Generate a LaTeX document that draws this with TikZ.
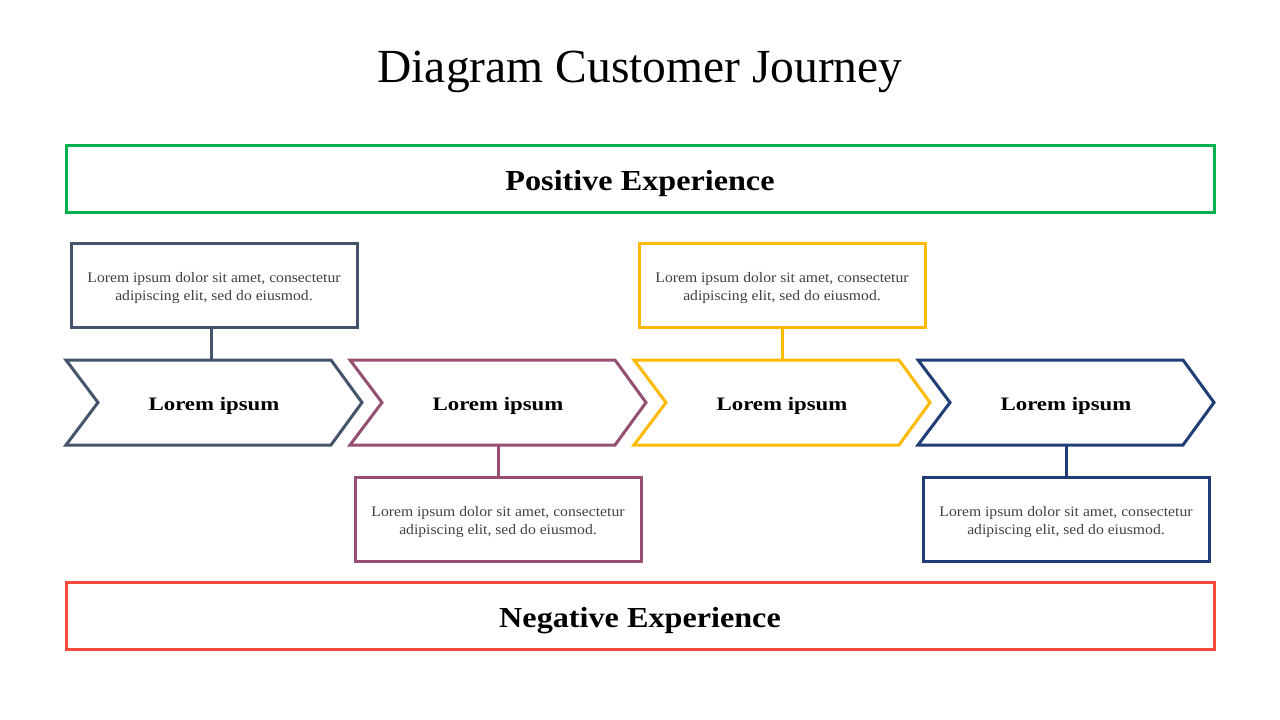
\documentclass[tikz,border=0pt]{standalone}
\usepackage{fontspec}
\setmainfont{Liberation Serif}
\definecolor{cslate}{HTML}{44546A}
\definecolor{cmauve}{HTML}{954F72}
\definecolor{cgold}{HTML}{FFB900}
\definecolor{cnavy}{HTML}{203D78}
\definecolor{cgreen}{HTML}{00B050}
\definecolor{cred}{HTML}{F44A3A}
\definecolor{ctext}{HTML}{404040}
\tikzset{
  lw/.style={line width=3pt, line join=miter},
  bandbox/.style={lw, draw, minimum width=1148pt, minimum height=67pt, inner sep=0pt},
  bandtext/.style={anchor=base, inner sep=0pt, font=\fontsize{29}{34}\selectfont\bfseries, text=black},
  descbox/.style={lw, draw, minimum width=286pt, minimum height=84pt, inner sep=0pt},
  desctext/.style={align=center, inner sep=0pt, font=\fontsize{14.5}{18}\selectfont, text=ctext},
  steplabel/.style={anchor=base, inner sep=0pt, font=\fontsize{19}{22}\selectfont\bfseries, text=black},
  link/.style={lw}
}
\begin{document}
\begin{tikzpicture}[x=1pt,y=-1pt]
\useasboundingbox (0,0) rectangle (1280,720);
\node[anchor=base, inner sep=0pt, font=\fontsize{47.5}{52}\selectfont, text=black] (title) at (640,82) {Diagram Customer Journey};
\node[bandbox, draw=cgreen] (pos) at (640,178.5) {};
\node[bandtext] (postext) at (640,190) {\scalebox{1.11}[1]{Positive Experience}};
\node[bandbox, draw=cred] (neg) at (640,615.5) {};
\node[bandtext] (negtext) at (640,627) {\scalebox{1.11}[1]{Negative Experience}};
% chevrons
\foreach \i/\x/\c in {1/66/cslate,2/350/cmauve,3/634/cgold,4/918/cnavy}{
  \draw[lw, draw=\c] (\x,360) -- (\x+265,360) -- (\x+296,402.5) -- (\x+265,445) -- (\x,445) -- (\x+32,402.5) -- cycle;
  \coordinate (top\i) at (\x+148,360);
  \coordinate (bot\i) at (\x+148,445);
  \node[steplabel] (lab\i) at (\x+148,410.8) {\scalebox{1.2}[1]{Lorem ipsum}};
}
\node[descbox, draw=cslate] (d1) at (214,285) {};
\node[descbox, draw=cgold] (d3) at (782,285.5) {};
\node[descbox, draw=cmauve] (d2) at (498,519.5) {};
\node[descbox, draw=cnavy] (d4) at (1066,519.5) {};
\foreach \i in {1,2,3,4}{
  \node[desctext] (t\i) at ([yshift=-3pt]d\i.center) {\scalebox{1.08}[1]{Lorem ipsum dolor sit amet, consectetur}\\\scalebox{1.08}[1]{adipiscing elit, sed do eiusmod.}};
}
\draw[link, draw=cslate] (d1.south -| 211,0) -- (211,360);
\draw[link, draw=cgold] (d3.south) -- (top3);
\draw[link, draw=cmauve] (bot2) -- (d2.north);
\draw[link, draw=cnavy] (bot4) -- (d4.north);
\end{tikzpicture}
\end{document}
